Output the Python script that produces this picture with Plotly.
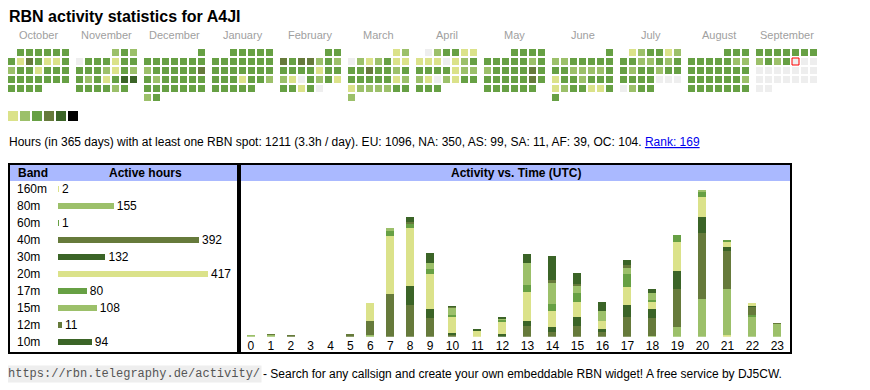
import datetime
import plotly.graph_objects as go

# ---------------- data ----------------
TITLE = "RBN activity statistics for A4JI"
month_names = ["October", "November", "December", "January", "February", "March",
               "April", "May", "June", "July", "August", "September"]
month_years = [2024, 2024, 2024, 2025, 2025, 2025, 2025, 2025, 2025, 2025, 2025, 2025]
month_nums = [10, 11, 12, 1, 2, 3, 4, 5, 6, 7, 8, 9]
# activity level per day (0 = none, 1..5 = increasing), one string per month
oct_levels = "333333" "3143113" "2331333" "3333333" "3333"
nov_levels = "232" "0333133" "3332132" "3231355" "333323"
dec_levels = "3" "3333333" "2333334" "3233333" "3333333" "23"
jan_levels = "33333" "3333333" "3333333" "3331332" "33333"
feb_levels = "33" "4344232" "3333133" "2103231" "33130"
mar_levels = "12" "0212311" "3343323" "3333312" "1222233" "2"
apr_levels = "023311" "1110123" "3333122" "2102133" "333"
may_levels = "3333" "3333323" "2333343" "3333343" "333333"
jun_levels = "3" "2233333" "3322223" "1332333" "1233113" "3"
jul_levels = "123312" "3322323" "3233233" "3333000" "0233"
aug_levels = "333" "3333322" "3333333" "3333332" "3333333"
sep_levels = "3333333" "2323000" "0000000" "0000000" "00"
day_levels = [oct_levels, nov_levels, dec_levels, jan_levels, feb_levels, mar_levels,
              apr_levels, may_levels, jun_levels, jul_levels, aug_levels, sep_levels]
today = datetime.date(2025, 9, 12)

level_colors = ["#eeeeee", "#dbe28a", "#9cc06a", "#67a044", "#667a3b", "#3b6427", "#000000"]

bands = ["160m", "80m", "60m", "40m", "30m", "20m", "17m", "15m", "12m", "10m"]
band_hours = [2, 155, 1, 392, 132, 417, 80, 108, 11, 94]
band_colors = ["#dbe28a", "#9cc06a", "#67a044", "#667a3b", "#3b6427",
               "#dbe28a", "#67a044", "#9cc06a", "#667a3b", "#3b6427"]

hours = list(range(24))
h160 = [0, 0, 0, 0, 0, 0, 0, 0, 0, 0, 0, 0, 0, 0, 0, 0, 0, 0, 0, 0, 0, 2, 0, 0]
h80 = [2, 2, 0, 0, 0, 0, 2, 0, 0, 0, 0, 0, 0, 0, 0, 0, 0, 0, 1, 11, 44, 54, 24, 15]
h60 = [0, 0, 0, 0, 0, 0, 0, 0, 0, 0, 0, 0, 0, 0, 0, 0, 0, 0, 0, 0, 0, 0, 1, 0]
h40 = [0, 1, 1, 0, 0, 3, 17, 50, 37, 22, 3, 0, 0, 12, 6, 12, 6, 23, 21, 45, 78, 44, 10, 1]
h30 = [0, 0, 0, 0, 0, 0, 0, 0, 23, 10, 1, 0, 3, 7, 5, 11, 3, 14, 10, 21, 18, 5, 1, 0]
h20 = [0, 0, 0, 0, 0, 0, 20, 68, 67, 41, 20, 7, 15, 34, 19, 18, 10, 21, 9, 34, 24, 7, 3, 0]
h17 = [0, 0, 0, 0, 0, 0, 0, 6, 6, 6, 2, 0, 2, 8, 8, 10, 0, 15, 2, 8, 6, 1, 0, 0]
h15 = [0, 0, 0, 0, 0, 0, 0, 3, 0, 8, 8, 0, 1, 26, 26, 8, 11, 8, 8, 0, 1, 0, 0, 0]
h12 = [0, 0, 0, 0, 0, 0, 0, 0, 2, 0, 1, 0, 0, 0, 2, 3, 0, 3, 0, 0, 0, 0, 0, 0]
h10 = [0, 0, 0, 0, 0, 0, 0, 0, 6, 11, 1, 1, 1, 10, 29, 13, 11, 6, 5, 0, 0, 0, 0, 0]
hour_series = [h160, h80, h60, h40, h30, h20, h17, h15, h12, h10]

INFO = ("Hours (in 365 days) with at least one RBN spot: 1211 (3.3h / day). "
        "EU: 1096, NA: 350, AS: 99, SA: 11, AF: 39, OC: 104. ")
RANK = "Rank: 169"
URL = "https://rbn.telegraphy.de/activity/"
FOOT = "- Search for any callsign and create your own embeddable RBN widget! A free service by DJ5CW."

# ---------------- layout helpers ----------------
W, H = 870, 390
OFF = 8  # the page body margin shifts the figure by 8 px
FONT = "Liberation Sans, Arial, sans-serif"


def px(x):
    return (x - OFF) / W


def py(y):
    return 1 - (y - OFF) / H


MONTH_PITCH = 68 / 9.0  # in cell units
CX0 = 11.5 - OFF  # pixel centre of first calendar column
CY0 = 52.5 - OFF  # pixel centre of first calendar row

fig = go.Figure()

# ---------------- calendar ----------------
cx, cy, cc = [], [], []
tx, ty = [], []
for m in range(12):
    first = datetime.date(month_years[m], month_nums[m], 1)
    wd0 = first.weekday()
    for d, ch in enumerate(day_levels[m]):
        k = wd0 + d
        xx = m * MONTH_PITCH + (k % 7)
        yy = k // 7
        cx.append(xx)
        cy.append(yy)
        cc.append(level_colors[int(ch)])
        if first + datetime.timedelta(days=d) == today:
            tx.append(xx)
            ty.append(yy)

fig.add_trace(go.Scatter(x=cx, y=cy, mode="markers", xaxis="x", yaxis="y",
                         marker=dict(symbol="square", size=7, color=cc, line=dict(width=0)),
                         hoverinfo="skip"))
fig.add_trace(go.Scatter(x=tx, y=ty, mode="markers", xaxis="x", yaxis="y",
                         marker=dict(symbol="square", size=7, color="#eeeeee",
                                     line=dict(width=1, color="#ff0000")),
                         hoverinfo="skip"))
# colour key
key_x = [(13 + 12 * i - 11.5) / 9 for i in range(6)]
key_y = [(116 - 52.5) / 9] * 6
fig.add_trace(go.Scatter(x=key_x, y=key_y, mode="markers", xaxis="x", yaxis="y",
                         marker=dict(symbol="square", size=10, color=level_colors[1:],
                                     line=dict(width=0)),
                         hoverinfo="skip"))

annotations = []
for m in range(12):
    annotations.append(dict(x=m * MONTH_PITCH + 3, y=(35 - 52.5) / 9, xref="x", yref="y",
                            text=month_names[m], showarrow=False,
                            font=dict(family=FONT, size=11, color="#a0a0a0"),
                            xanchor="center", yanchor="middle"))

# ---------------- band table ----------------
fig.add_trace(go.Bar(y=bands, x=band_hours, orientation="h", xaxis="x2", yaxis="y2",
                     marker=dict(color=band_colors, line=dict(width=0)), width=0.41,
                     text=[str(v) for v in band_hours], textposition="outside",
                     constraintext="none", cliponaxis=False,
                     textfont=dict(family=FONT, size=12, color="#000"),
                     hoverinfo="skip"))
for b in bands:
    annotations.append(dict(x=px(15), y=b, xref="paper", yref="y2", text=b,
                            showarrow=False, xanchor="left", yanchor="middle",
                            font=dict(family=FONT, size=12, color="#000")))

# ---------------- activity vs time ----------------
col_w = [19.9 if h < 10 else 24.99 for h in hours]
centers = []
acc = 0.0
for w in col_w:
    centers.append(acc + w / 2)
    acc += w
for b, series, col in zip(bands, hour_series, band_colors):
    fig.add_trace(go.Bar(x=centers, y=series, xaxis="x3", yaxis="y3", width=8,
                         marker=dict(color=col, line=dict(width=0)), name=b,
                         hoverinfo="skip"))

# ---------------- frames & headers ----------------
shapes = [
    dict(type="rect", xref="paper", yref="paper", x0=px(10), x1=px(237), y0=py(165), y1=py(181),
         fillcolor="#aab9ff", line=dict(width=0), layer="below"),
    dict(type="rect", xref="paper", yref="paper", x0=px(241), x1=px(790), y0=py(165), y1=py(181),
         fillcolor="#aab9ff", line=dict(width=0), layer="below"),
    dict(type="rect", xref="paper", yref="paper", x0=px(9), x1=px(238), y0=py(164), y1=py(353),
         line=dict(width=2, color="#000"), layer="above"),
    dict(type="rect", xref="paper", yref="paper", x0=px(240), x1=px(791), y0=py(164), y1=py(353),
         line=dict(width=2, color="#000"), layer="above"),
]

annotations += [
    dict(x=px(16), y=py(173), xref="paper", yref="paper", text="<b>Band</b>", showarrow=False,
         xanchor="left", yanchor="middle", font=dict(family=FONT, size=12, color="#000")),
    dict(x=px(145), y=py(173), xref="paper", yref="paper", text="<b>Active hours</b>",
         showarrow=False, xanchor="center", yanchor="middle",
         font=dict(family=FONT, size=12, color="#000")),
    dict(x=px(515.5), y=py(173), xref="paper", yref="paper", text="<b>Activity vs. Time (UTC)</b>",
         showarrow=False, xanchor="center", yanchor="middle",
         font=dict(family=FONT, size=12, color="#000")),
    dict(x=px(7), y=py(16), xref="paper", yref="paper", text="<b>" + TITLE + "</b>",
         showarrow=False, xanchor="left", yanchor="middle",
         font=dict(family=FONT, size=16, color="#000")),
    dict(x=px(7), y=py(142), xref="paper", yref="paper",
         text=INFO + "<span style='color:#0000ee;text-decoration:underline'>" + RANK + "</span>",
         showarrow=False, xanchor="left", yanchor="middle",
         font=dict(family=FONT, size=12, color="#000")),
    dict(x=px(6), y=py(374), xref="paper", yref="paper", text=URL, showarrow=False,
         xanchor="left", yanchor="middle", bgcolor="#eeeeee", borderpad=1,
         font=dict(family="Liberation Mono, DejaVu Sans Mono, monospace", size=12, color="#555")),
    dict(x=px(261), y=py(374), xref="paper", yref="paper", text=FOOT, showarrow=False,
         xanchor="left", yanchor="middle",
         font=dict(family=FONT, size=12, color="#000")),
]

hidden = dict(visible=False, showgrid=False, zeroline=False, fixedrange=True)
fig.update_layout(
    width=W, height=H, margin=dict(l=0, r=0, t=0, b=0),
    paper_bgcolor="#ffffff", plot_bgcolor="rgba(0,0,0,0)",
    showlegend=False, barmode="stack",
    xaxis=dict(domain=[0, 1], range=[-CX0 / 9, (W - CX0) / 9], **hidden),
    yaxis=dict(domain=[0, 1], range=[(H - CY0) / 9, -CY0 / 9], **hidden),
    xaxis2=dict(domain=[px(58), px(208)], range=[0, 417], anchor="y2", **hidden),
    yaxis2=dict(domain=[py(350.5), py(180.5)], range=[9.5, -0.5], anchor="x2",
                type="category", **hidden),
    xaxis3=dict(domain=[px(241), px(790)], range=[0, 549], anchor="y3",
                showgrid=False, zeroline=False, showline=False, ticks="",
                tickmode="array", tickvals=centers, ticktext=[str(h) for h in hours],
                tickfont=dict(family=FONT, size=12, color="#000"), fixedrange=True),
    yaxis3=dict(domain=[py(336.7), py(181)], range=[0, 182.7], anchor="x3", **hidden),
    shapes=shapes, annotations=annotations,
)

fig.write_html("out.html")
